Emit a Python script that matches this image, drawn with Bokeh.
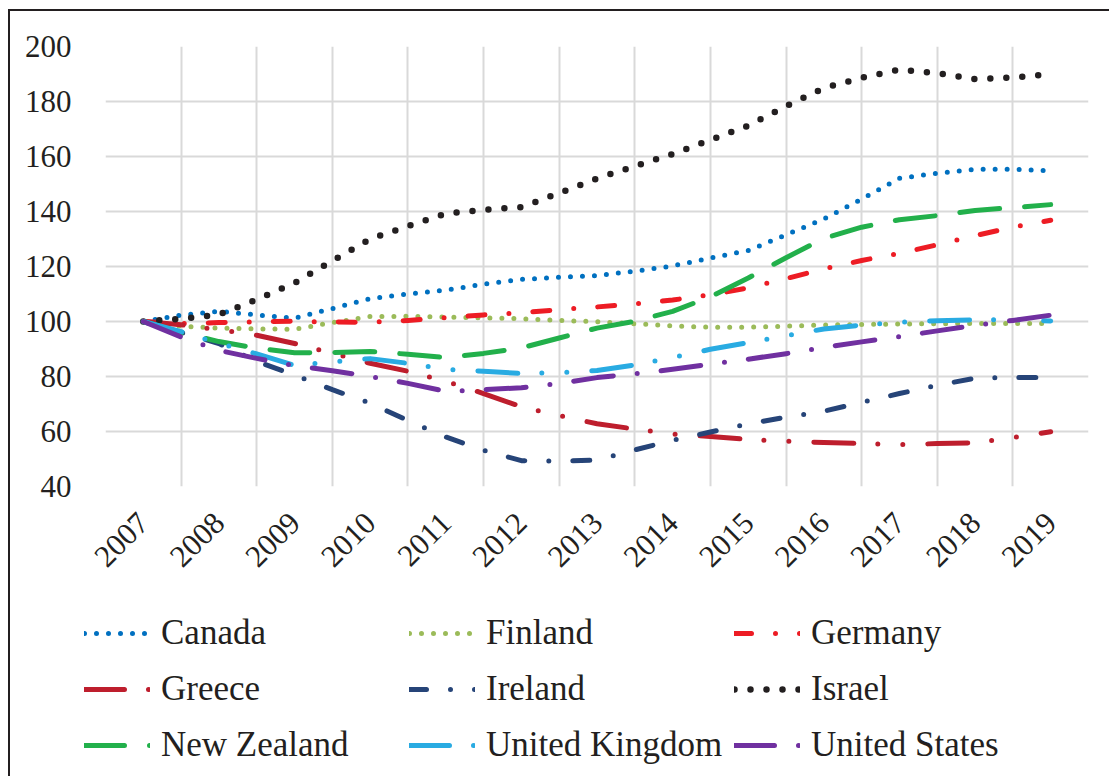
import math
from bokeh.plotting import figure
from bokeh.layouts import column
from bokeh.models import Range1d, FixedTicker, Legend, LegendItem
from bokeh.embed import file_html
from bokeh.resources import INLINE

# positions (half-year steps) at which the series were read
periods = [2007.0, 2007.5, 2008.0, 2008.5, 2009.0, 2009.5, 2010.0, 2010.5, 2011.0,
           2011.5, 2012.0, 2012.5, 2013.0, 2013.5, 2014.0, 2014.5, 2015.0, 2015.5,
           2016.0, 2016.5, 2017.0, 2017.5, 2018.0, 2018.5, 2019.0]

tick_years = [2007, 2008, 2009, 2010, 2011, 2012, 2013, 2014, 2015, 2016, 2017, 2018, 2019]
tick_labels = ["2007", "2008", "2009", "2010", "2011", "2012", "2013",
               "2014", "2015", "2016", "2017", "2018", "2019"]
grid_bounds = [2006.5, 2007.5, 2008.5, 2009.5, 2010.5, 2011.5, 2012.5, 2013.5,
               2014.5, 2015.5, 2016.5, 2017.5, 2018.5, 2019.5]
y_ticks = [40, 60, 80, 100, 120, 140, 160, 180, 200]

canada = [100, 102.3, 103.7, 102.4, 101.2, 104.7, 108.3, 110.0, 111.4, 113.6, 115.3, 116.1,
          116.7, 118.3, 120.2, 123.1, 125.8, 131.5, 137.3, 144.5, 152.1, 153.9, 155.3, 155.4, 154.8]
finland = [100, 98.3, 97.6, 97.3, 97.2, 99.6, 101.8, 101.9, 101.6, 101.3, 101.0, 100.4,
           99.9, 99.2, 98.4, 97.9, 97.9, 98.3, 98.7, 98.9, 99.1, 99.2, 99.3, 99.3, 99.3]
germany = [100, 99.2, 99.6, 99.9, 100.1, 99.8, 99.7, 100.4, 101.4, 102.4, 103.2, 104.3,
           105.3, 106.4, 107.8, 109.7, 112.2, 115.6, 119.1, 122.2, 124.8, 127.9, 131.2, 134.3, 136.8]
greece = [100, 98.8, 97.0, 95.0, 92.0, 88.5, 84.8, 81.9, 78.3, 73.8, 69.0, 65.8,
          62.8, 60.9, 59.1, 58.2, 57.1, 56.5, 56.0, 55.6, 55.2, 55.6, 55.9, 57.8, 59.9]
ireland = [100, 96.0, 92.0, 85.5, 80.5, 75.2, 70.3, 64.0, 58.0, 53.2, 49.4, 49.2,
           49.6, 53.3, 56.8, 59.8, 62.8, 65.2, 67.4, 70.6, 73.8, 76.8, 79.4, 79.6, 79.6]
israel = [100, 101.0, 102.5, 108.0, 114.0, 122.1, 130.0, 134.7, 139.2, 140.6, 141.6, 146.7,
          152.0, 156.5, 160.9, 166.0, 171.2, 178.3, 184.9, 188.6, 191.6, 190.3, 188.1, 188.7, 190.0]
new_zealand = [100, 96.0, 92.7, 90.3, 88.6, 88.7, 89.1, 88.1, 86.9, 88.4, 90.4, 94.0,
               97.6, 100.1, 103.7, 109.0, 115.8, 123.2, 130.2, 134.3, 137.0, 138.5, 140.4, 141.4, 142.5]
united_kingdom = [100, 96.3, 92.1, 88.2, 84.0, 85.3, 86.5, 84.8, 82.6, 81.9, 81.1, 81.4,
                  82.2, 84.2, 86.9, 89.9, 92.3, 94.8, 97.3, 98.7, 99.7, 100.3, 100.6, 100.6, 100.2]
united_states = [100, 94.4, 89.5, 86.6, 83.9, 82.1, 80.0, 77.5, 74.6, 75.2, 75.9, 77.5,
                 79.6, 81.0, 82.6, 84.5, 86.3, 88.3, 90.6, 92.6, 94.5, 96.6, 98.6, 100.4, 102.3]

names = ["Canada", "Finland", "Germany", "Greece", "Ireland", "Israel",
         "New Zealand", "United Kingdom", "United States"]
values = [canada, finland, germany, greece, ireland, israel,
          new_zealand, united_kingdom, united_states]
colors = ["#0070C0", "#9BBB59", "#ED1C24", "#BE1E2D", "#264478", "#231F20",
          "#22B04B", "#29ABE2", "#7030A0"]
dashes = ["0 12", "0 12", "17 24 0 24", "40 24 0 25 0 25", "17 24 0 24", "0 16",
          "40 25", "40 24 0 25 0 25", "40 24 0 24"]
widths = [5, 5, 5, 5, 5, 6.5, 5, 5, 5]

TEXT = "#231F20"
FONT = "Liberation Serif"

# ---- main chart ----
p = figure(width=1099, height=590, output_backend="svg", toolbar_location=None,
           x_range=Range1d(2006.5, 2019.5), y_range=Range1d(40, 200),
           min_border_left=95, min_border_top=35, min_border_right=21,
           min_border_bottom=115)
p.outline_line_color = None
p.background_fill_color = "white"
p.border_fill_color = "white"

p.xaxis.ticker = FixedTicker(ticks=tick_years)
p.xaxis.major_label_overrides = {y: s for y, s in zip(tick_years, tick_labels)}
p.xaxis.major_label_orientation = math.pi / 4
p.xaxis.major_label_standoff = 25
for ax in (p.xaxis, p.yaxis):
    ax.axis_line_color = None
    ax.major_tick_line_color = None
    ax.minor_tick_line_color = None
    ax.major_label_text_font = FONT
    ax.major_label_text_font_size = "31px"
    ax.major_label_text_color = TEXT
p.yaxis.ticker = FixedTicker(ticks=y_ticks)
p.yaxis.major_label_standoff = 28

p.xgrid.ticker = FixedTicker(ticks=grid_bounds)
p.xgrid.grid_line_color = "#D9D9D9"
p.xgrid.grid_line_width = 2
p.ygrid.grid_line_color = "#D9D9D9"
p.ygrid.grid_line_width = 2

for name, vals, col, dash, w in zip(names, values, colors, dashes, widths):
    p.line(x=periods, y=vals, line_color=col, line_width=w, line_dash=dash,
           line_cap="round", line_join="round")

# ---- legend panel: same series, drawn outside this panel's view range ----
lg = figure(width=1099, height=175, output_backend="svg", toolbar_location=None,
            x_range=Range1d(0, 1), y_range=Range1d(0, 1),
            x_axis_type=None, y_axis_type=None,
            min_border_left=0, min_border_right=0, min_border_top=0, min_border_bottom=0)
try:
    lg.frame_align = False
except Exception:
    pass
lg.outline_line_color = None
lg.xgrid.visible = False
lg.ygrid.visible = False
lg.background_fill_color = "white"
lg.border_fill_color = "white"

items = []
for name, vals, col, dash, w in zip(names, values, colors, dashes, widths):
    r = lg.line(x=periods, y=vals, line_color=col, line_width=w, line_dash=dash,
                line_cap="round", line_join="round")
    items.append(LegendItem(label=name, renderers=[r]))

legend = Legend(items=items, location=(74, 8), orientation="horizontal", ncols=3,
                glyph_width=66, glyph_height=46, label_height=46, label_width=238,
                label_standoff=11, spacing=10, padding=0, margin=0,
                border_line_color=None, background_fill_alpha=0,
                label_text_font=FONT, label_text_font_size="35px",
                label_text_color=TEXT, label_text_baseline="middle")
lg.add_layout(legend, "center")

layout = column(p, lg, spacing=0)
layout.margin = (9, 0, 0, 8)
layout.styles = {"border-left": "2px solid #231F20", "border-top": "2px solid #231F20"}

open("out.html", "w").write(file_html(layout, INLINE))
